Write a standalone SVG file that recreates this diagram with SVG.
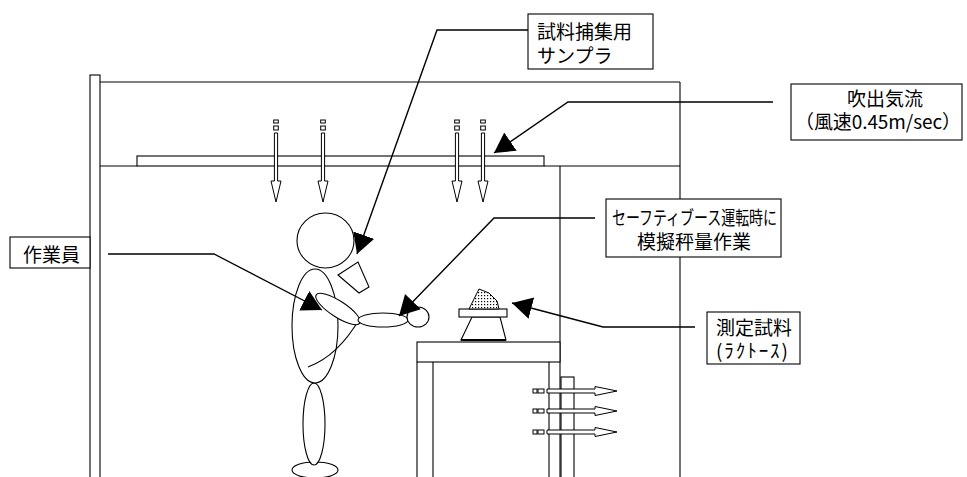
<svg xmlns="http://www.w3.org/2000/svg" width="967" height="477" viewBox="0 0 967 477">
  <style>
    .ln { fill: none; stroke: #000; stroke-width: 1.1; }
    .sh { fill: #fff; stroke: #000; stroke-width: 1.1; }
    .box { fill: #fff; stroke: #000; stroke-width: 1.1; }
    .tx { font-family: "Noto Sans CJK JP", "Noto Sans", sans-serif; font-size: 19px; fill: #000; }
    .air { fill: #fff; stroke: #000; stroke-width: 1; }
    .lead { fill: none; stroke: #000; stroke-width: 1.4; marker-end: url(#head); }
  </style>
  <defs>
    <marker id="head" markerUnits="userSpaceOnUse" markerWidth="22" markerHeight="24" refX="20" refY="11" orient="auto">
      <path d="M0,0 L20,11 L0,22 z" fill="#000"/>
    </marker>
    <pattern id="dots" width="3" height="3" patternUnits="userSpaceOnUse">
      <rect width="3" height="3" fill="#fff"/>
      <rect x="1" y="1" width="1.2" height="1.2" fill="#000"/>
    </pattern>
    <!-- downward airflow arrow with its two small tail marks -->
    <g id="down">
      <rect class="air" x="-2.3" y="120" width="4.6" height="3"/>
      <rect class="air" x="-2.3" y="126" width="4.6" height="4"/>
      <path class="air" d="M-1.6,133 H1.6 V181 H5 L0,202 L-5,181 H-1.6 Z"/>
    </g>
    <!-- exhaust arrow pointing right -->
    <g id="side">
      <rect class="air" x="533" y="-2" width="4" height="4"/>
      <rect class="air" x="538" y="-2" width="6" height="4"/>
      <path class="air" d="M547,-2 H595 V-4.5 L617,0 L595,4.5 V2 H547 Z"/>
    </g>
  </defs>

  <!-- booth structure -->
  <g id="booth">
    <rect class="sh" x="90" y="75" width="10" height="410"/>
    <line class="ln" x1="100" y1="82" x2="680" y2="82"/>
    <line class="ln" x1="680" y1="82" x2="680" y2="480"/>
    <line class="ln" x1="100" y1="166" x2="137" y2="166"/>
    <rect class="sh" x="137" y="156" width="407" height="10" stroke="#444"/>
    <line class="ln" x1="544" y1="166" x2="680" y2="166"/>
    <line class="ln" x1="560" y1="166" x2="560" y2="480"/>
  </g>

  <!-- weighing table -->
  <g id="table">
    <rect class="sh" x="417" y="342" width="143" height="20"/>
    <line class="ln" x1="417" y1="362" x2="417" y2="480"/>
    <line class="ln" x1="433" y1="362" x2="433" y2="480"/>
    <line class="ln" x1="549" y1="362" x2="549" y2="480"/>
  </g>

  <!-- exhaust duct -->
  <g id="duct">
    <rect class="sh" x="561" y="377" width="13" height="105"/>
  </g>

  <!-- balance with sample -->
  <g id="balance">
    <path class="sh" d="M472,317 L500,317 L506,340 L461,340 Z"/>
    <line x1="461" y1="340" x2="506" y2="340" stroke="#000" stroke-width="2"/>
    <rect class="sh" x="459" y="309" width="48" height="8"/>
    <path d="M469,309 L479,289 L489,293 L497,301 L499,309 Z" fill="url(#dots)" stroke="#000" stroke-width="1"/>
  </g>

  <!-- worker -->
  <g id="worker">
    <ellipse class="sh" cx="315" cy="470" rx="23" ry="8"/>
    <ellipse class="sh" cx="314" cy="424" rx="11" ry="41"/>
    <ellipse class="sh" cx="315" cy="326" rx="23" ry="57"/>
    <path class="ln" d="M308,367 Q338,356 360,318"/>
    <ellipse class="sh" cx="338" cy="309" rx="26" ry="8" transform="rotate(33 338 309)"/>
    <ellipse class="sh" cx="383" cy="320" rx="25" ry="7"/>
    <ellipse class="sh" cx="418" cy="317" rx="11" ry="10"/>
    <ellipse class="sh" cx="325.5" cy="240.5" rx="28.5" ry="27.5"/>
    <path class="sh" d="M338,275 L358,262 L369,287 L359,293 Z"/>
  </g>

  <!-- airflow arrows -->
  <g id="airflow">
    <use href="#down" x="276"/>
    <use href="#down" x="323"/>
    <use href="#down" x="457"/>
    <use href="#down" x="483"/>
    <use href="#side" y="391"/>
    <use href="#side" y="411"/>
    <use href="#side" y="432"/>
  </g>

  <!-- leader lines -->
  <g id="connectors">
    <polyline class="lead" points="528,30 437,30 357,254"/>
    <polyline class="lead" points="773,102 568,102 494,153"/>
    <polyline class="lead" points="595,218 494,218 399,316"/>
    <polyline class="lead" points="108,254 214,254 322,310"/>
    <polyline class="lead" points="695,327 603,327 512,303"/>
  </g>

  <!-- labels -->
  <g id="label-sampler">
    <rect class="box" x="528" y="14" width="125" height="55"/>
    <text class="tx" x="537" y="39" font-size="20">試料捕集用</text>
    <text class="tx" x="537" y="63" font-size="20">サンプラ</text>
  </g>
  <g id="label-airflow">
    <rect class="box" x="791" y="84" width="171" height="56"/>
    <text class="tx" x="885" y="106" text-anchor="middle" font-size="18">吹出気流</text>
    <text class="tx" x="795" y="129" font-size="18" textLength="166" lengthAdjust="spacing">（風速0.45m/sec）</text>
  </g>
  <g id="label-operation">
    <rect class="box" x="606" y="199" width="175" height="58"/>
    <text class="tx" x="612" y="225" font-size="17" textLength="165" lengthAdjust="spacingAndGlyphs">セーフティブース運転時に</text>
    <text class="tx" x="694" y="249" text-anchor="middle">模擬秤量作業</text>
  </g>
  <g id="label-sample">
    <rect class="box" x="707" y="312" width="93" height="52"/>
    <text class="tx" x="716" y="335" font-size="19">測定試料</text>
    <text class="tx" x="716" y="358" font-size="17" textLength="72" lengthAdjust="spacing">(ﾗｸﾄｰｽ)</text>
  </g>
  <g id="label-worker">
    <rect class="box" x="10" y="237" width="80" height="31"/>
    <text class="tx" x="23" y="262" font-size="20">作業員</text>
  </g>
</svg>
